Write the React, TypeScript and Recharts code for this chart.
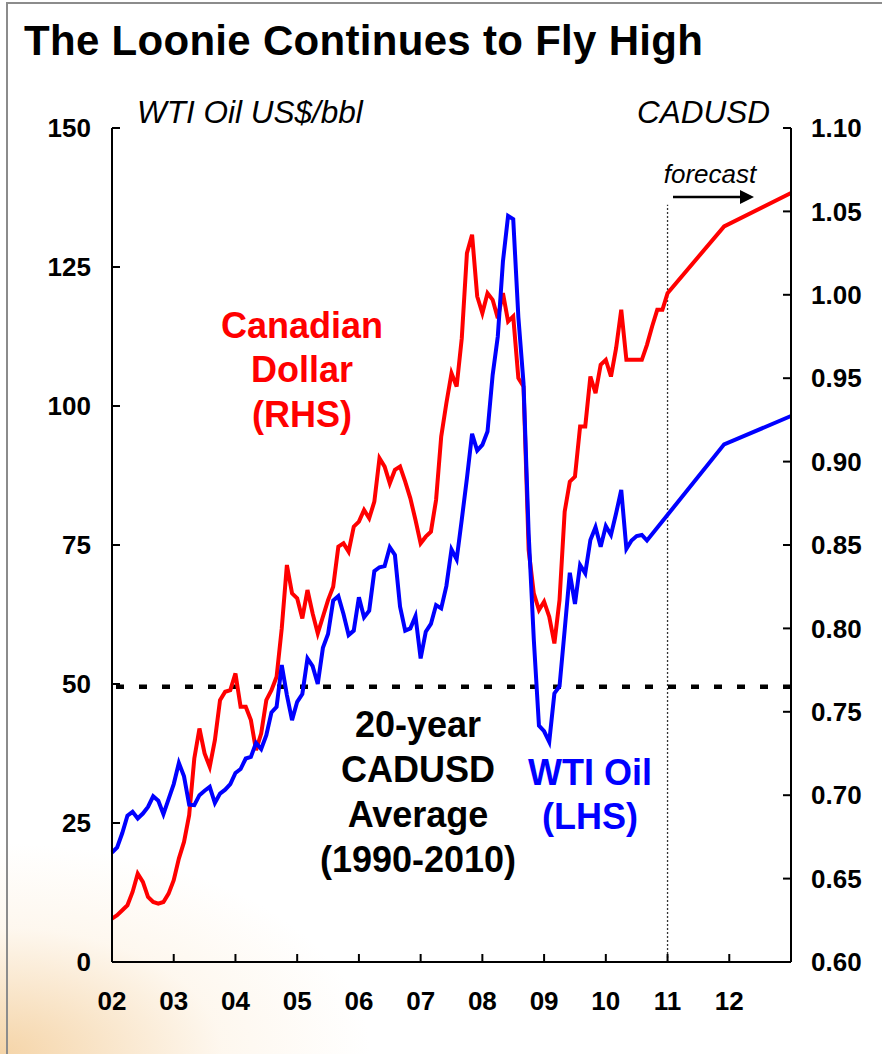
import React from "react";
import { LineChart, Line, XAxis, YAxis, ReferenceLine } from "recharts";

// month index 0 = Jan 2002, 12 months per year
const yearLabels = ["02", "03", "04", "05", "06", "07", "08", "09", "10", "11", "12"];
const oilTicks = [0, 25, 50, 75, 100, 125, 150];
const cadTicks = [0.6, 0.65, 0.7, 0.75, 0.8, 0.85, 0.9, 0.95, 1.0, 1.05, 1.1];

// WTI oil, US$/bbl, monthly from Jan 2002 to Sep 2010
const oilMonthly = [
  19.7, 20.6, 23.2, 26.3, 27.0, 25.8, 26.7, 27.9, 29.8, 29.0, 26.6, 29.3,
  32.0, 35.8, 33.4, 28.3, 28.2, 30.0, 30.8, 31.5, 28.6, 30.3, 31.0, 32.0,
  34.0, 34.7, 36.6, 36.9, 39.4, 38.3, 40.8, 44.9, 45.9, 53.4, 48.0, 43.5,
  46.8, 48.2, 54.6, 53.2, 50.0, 56.5, 59.0, 65.0, 65.8, 62.6, 58.8, 59.6,
  65.6, 62.0, 63.2, 70.3, 71.0, 71.2, 74.6, 73.2, 63.9, 59.6, 60.0, 62.2,
  54.6, 59.4, 60.8, 64.2, 63.6, 67.6, 74.2, 72.4, 79.6, 87.0, 95.0, 92.0,
  93.0, 95.4, 105.6, 112.5, 126.0, 134.2, 133.6, 116.0, 104.1, 77.0, 58.0, 42.5,
  41.5, 39.6, 48.3, 49.6, 59.7, 70.0, 64.4, 71.4, 69.9, 75.9, 78.2, 74.7,
  78.4, 76.8, 80.7, 84.9, 74.3, 75.8, 76.6, 76.8, 75.8,
];

// CADUSD, monthly from Jan 2002 to Dec 2010
const cadMonthly = [
  0.626, 0.628, 0.631, 0.634, 0.642, 0.653, 0.648, 0.639, 0.636, 0.635, 0.636, 0.641,
  0.649, 0.662, 0.672, 0.688, 0.722, 0.740, 0.725, 0.717, 0.733, 0.757, 0.762, 0.763,
  0.773, 0.753, 0.753, 0.745, 0.727, 0.737, 0.757, 0.763, 0.771, 0.800, 0.838, 0.821,
  0.818, 0.806, 0.823, 0.809, 0.797, 0.807, 0.817, 0.825, 0.849, 0.851, 0.846, 0.861,
  0.864, 0.871, 0.866, 0.876, 0.902, 0.897, 0.887, 0.895, 0.897, 0.888, 0.878, 0.865,
  0.851, 0.855, 0.858, 0.877, 0.915, 0.935, 0.953, 0.945, 0.974, 1.025, 1.036, 0.999,
  0.989, 1.001, 0.997, 0.986, 1.001, 0.984, 0.987, 0.950, 0.945, 0.847, 0.821, 0.811,
  0.816, 0.807, 0.791, 0.817, 0.870, 0.888, 0.891, 0.921, 0.921, 0.951, 0.941, 0.958,
  0.961, 0.951, 0.968, 0.991, 0.961, 0.961, 0.961, 0.961, 0.970, 0.981, 0.991, 0.991,
];

// forecast points
const forecastMonths = [108, 119, 132];
const oilForecast = [null, 93.1, 98.2];
const cadForecast = [1.001, 1.041, 1.061];

const cadAverage = 0.765; // 20-year CADUSD average
const forecastStart = 108;
const forecastLineTop = 1.054;

const rows: Array<{ m: number; oil: number | null; cad: number | null }> = cadMonthly.map((c, i) => ({
  m: i,
  cad: c,
  oil: i < oilMonthly.length ? oilMonthly[i] : null,
}));
forecastMonths.forEach((m, i) => rows.push({ m, oil: oilForecast[i], cad: cadForecast[i] }));

const FONT = '"Liberation Sans", Arial, Helvetica, sans-serif';
const tickStyle = { fill: "#000", fontSize: 26, fontWeight: "bold", fontFamily: FONT };
const axisStroke = { stroke: "#000", strokeWidth: 2 };

export default function App() {
  return (
    <div
      style={{
        position: "absolute",
        left: 0,
        top: 0,
        width: 882,
        height: 1054,
        overflow: "hidden",
        background:
          "radial-gradient(ellipse 42% 20% at 0% 100%, rgba(238,184,110,0.6), rgba(250,225,190,0.25) 60%, rgba(255,255,255,0) 100%), #fff",
        fontFamily: FONT,
      }}
    >
      <div
        style={{
          position: "absolute",
          left: 6,
          top: 2,
          width: 900,
          height: 1100,
          borderLeft: "2px solid #8c8c8c",
          borderTop: "2px solid #8c8c8c",
        }}
      />
      <div style={{ position: "absolute", left: 0, top: 0 }}>
        <LineChart width={882} height={1054} data={rows} margin={{ top: 128, right: 0, bottom: 0, left: 0 }}>
          <XAxis
            dataKey="m"
            type="number"
            domain={[0, 132]}
            ticks={yearLabels.map((_, i) => i * 12)}
            tickFormatter={(v: number) => yearLabels[Math.round(v / 12)]}
            height={92}
            tickSize={-8}
            tickMargin={38}
            tick={tickStyle}
            axisLine={axisStroke}
            tickLine={axisStroke}
            interval={0}
          />
          <YAxis
            yAxisId="oil"
            orientation="left"
            domain={[0, 150]}
            ticks={oilTicks}
            width={112}
            tickSize={-8}
            tickMargin={29}
            tick={tickStyle}
            axisLine={axisStroke}
            tickLine={axisStroke}
            interval={0}
          />
          <YAxis
            yAxisId="cad"
            orientation="right"
            domain={[0.6, 1.1]}
            ticks={cadTicks}
            tickFormatter={(v: number) => v.toFixed(2)}
            width={91}
            tickSize={-8}
            tickMargin={28}
            tick={tickStyle}
            axisLine={axisStroke}
            tickLine={axisStroke}
            interval={0}
          />
          <ReferenceLine yAxisId="cad" y={cadAverage} stroke="#000" strokeWidth={4.5} strokeDasharray="8 15" />
          <ReferenceLine
            yAxisId="cad"
            segment={[
              { x: forecastStart, y: 0.6 },
              { x: forecastStart, y: forecastLineTop },
            ]}
            stroke="#333"
            strokeWidth={1.3}
            strokeDasharray="2 2"
          />
          <Line
            yAxisId="cad"
            dataKey="cad"
            type="linear"
            stroke="#ff0000"
            strokeWidth={4}
            dot={false}
            connectNulls
            isAnimationActive={false}
          />
          <Line
            yAxisId="oil"
            dataKey="oil"
            type="linear"
            stroke="#0000ff"
            strokeWidth={4}
            dot={false}
            connectNulls
            isAnimationActive={false}
          />
        </LineChart>
      </div>
      <svg
        width={882}
        height={1054}
        style={{ position: "absolute", left: 0, top: 0, pointerEvents: "none" }}
        fontFamily={FONT}
      >
        <text x={24} y={55} fontSize={42} fontWeight="bold" fill="#000" letterSpacing={0.3}>
          The Loonie Continues to Fly High
        </text>
        <text x={137} y={123} fontSize={31.5} fontStyle="italic" fill="#000">
          WTI Oil US$/bbl
        </text>
        <text x={770} y={123} fontSize={31.5} fontStyle="italic" fill="#000" textAnchor="end">
          CADUSD
        </text>
        <text x={710} y={183} fontSize={26} fontStyle="italic" fill="#000" textAnchor="middle">
          forecast
        </text>
        <line x1={673} y1={197} x2={742} y2={197} stroke="#000" strokeWidth={2.5} />
        <polygon points="740,190 754,197 740,204" fill="#000" />
        <g fontSize={36} fontWeight="bold" fill="#ff0000" textAnchor="middle">
          <text x={302} y={338}>Canadian</text>
          <text x={302} y={382}>Dollar</text>
          <text x={302} y={427}>(RHS)</text>
        </g>
        <g fontSize={36} fontWeight="bold" fill="#000" textAnchor="middle">
          <text x={418} y={737}>20-year</text>
          <text x={418} y={782}>CADUSD</text>
          <text x={418} y={827}>Average</text>
          <text x={418} y={872}>(1990-2010)</text>
        </g>
        <g fontSize={36} fontWeight="bold" fill="#0000ff" textAnchor="middle">
          <text x={590} y={785}>WTI Oil</text>
          <text x={590} y={829}>(LHS)</text>
        </g>
      </svg>
    </div>
  );
}
